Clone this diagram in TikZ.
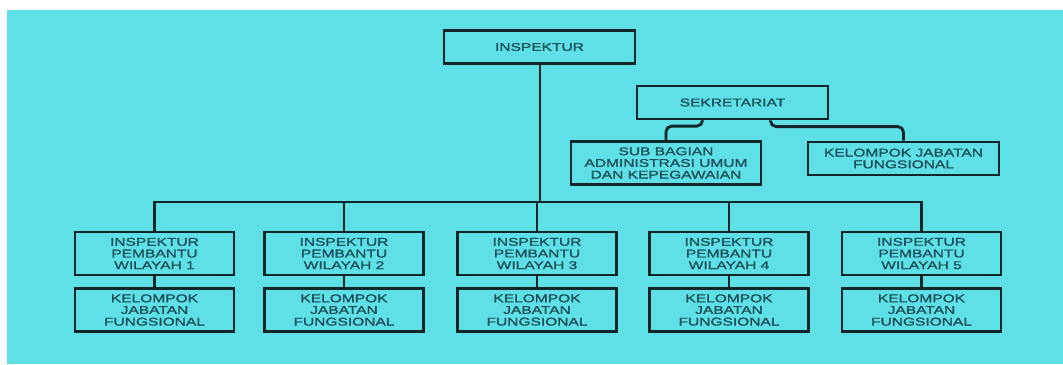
\documentclass[tikz,border=0pt]{standalone}
\usepackage{fontspec}
\setmainfont{Liberation Sans}[FakeStretch=1.38,FakeBold=1.2]
\usepackage{tikz}
\usetikzlibrary{calc}
\usetikzlibrary{positioning}

\definecolor{bgcyan}{RGB}{94,224,230}
\definecolor{boxline}{RGB}{16,38,42}
\definecolor{boxtext}{RGB}{26,78,88}

\begin{document}
\begin{tikzpicture}[
  x = 0.025cm, y = -0.025cm,
  unit/.style = {draw=boxline,line width=2pt,align=center,text=boxtext,
    font=\fontsize{8}{8.3}\selectfont,inner sep=0pt,
    minimum width=159*0.025cm,minimum height=43*0.025cm},
  wide/.style = {unit,minimum width=191*0.025cm,minimum height=33*0.025cm},
  link/.style = {draw=boxline,line width=2pt}
  ]
  \useasboundingbox (0,0) rectangle (1063,364);
  \fill[white] (0,0) rectangle (1063,364);
  \fill[bgcyan] (7,10) rectangle (1063,364);

  \node[wide] (insp) at (539.5,47) {INSPEKTUR};
  \node[wide] (sekr) at (732.5,102.5) {SEKRETARIAT};
  \node[unit,minimum width=190*0.025cm] (sub) at (666,163) {SUB BAGIAN\\ADMINISTRASI UMUM\\DAN KEPEGAWAIAN};
  \node[wide] (kjf) at (903.5,158.5) {KELOMPOK JABATAN\\FUNGSIONAL};

  \node[unit] (ipw1) at (154.5,253.5) {INSPEKTUR\\PEMBANTU\\WILAYAH 1};
  \node[unit] (ipw2) at (344,253.5) {INSPEKTUR\\PEMBANTU\\WILAYAH 2};
  \node[unit] (ipw3) at (537,253.5) {INSPEKTUR\\PEMBANTU\\WILAYAH 3};
  \node[unit] (ipw4) at (729,253.5) {INSPEKTUR\\PEMBANTU\\WILAYAH 4};
  \node[unit] (ipw5) at (921.5,253.5) {INSPEKTUR\\PEMBANTU\\WILAYAH 5};

  \node[unit] (kel1) at (154.5,310) {KELOMPOK\\JABATAN\\FUNGSIONAL};
  \node[unit] (kel2) at (344,310) {KELOMPOK\\JABATAN\\FUNGSIONAL};
  \node[unit] (kel3) at (537,310) {KELOMPOK\\JABATAN\\FUNGSIONAL};
  \node[unit] (kel4) at (729,310) {KELOMPOK\\JABATAN\\FUNGSIONAL};
  \node[unit] (kel5) at (921.5,310) {KELOMPOK\\JABATAN\\FUNGSIONAL};

  \coordinate (bus) at (540,202);
  \draw[link] (insp.south -| bus) -- (bus);
  \draw[link] (ipw1.north) -- (ipw1.north |- bus) -- (ipw5.north |- bus) -- (ipw5.north);
  \draw[link] (ipw2.north) -- (ipw2.north |- bus);
  \draw[link] (ipw3.north) -- (ipw3.north |- bus);
  \draw[link] (ipw4.north) -- (ipw4.north |- bus);

  \draw[link] (ipw1) -- (kel1);
  \draw[link] (ipw2) -- (kel2);
  \draw[link] (ipw3) -- (kel3);
  \draw[link] (ipw4) -- (kel4);
  \draw[link] (ipw5) -- (kel5);

  \draw[link,rounded corners=4pt] ($(sekr.south)+(-30,0)$) |- ($(sub.north)+(0,-14)$) -- (sub.north);
  \draw[link,rounded corners=4pt] ($(sekr.south)+(38,0)$) |- ($(kjf.north)+(0,-14)$) -- (kjf.north);
\end{tikzpicture}
\end{document}
